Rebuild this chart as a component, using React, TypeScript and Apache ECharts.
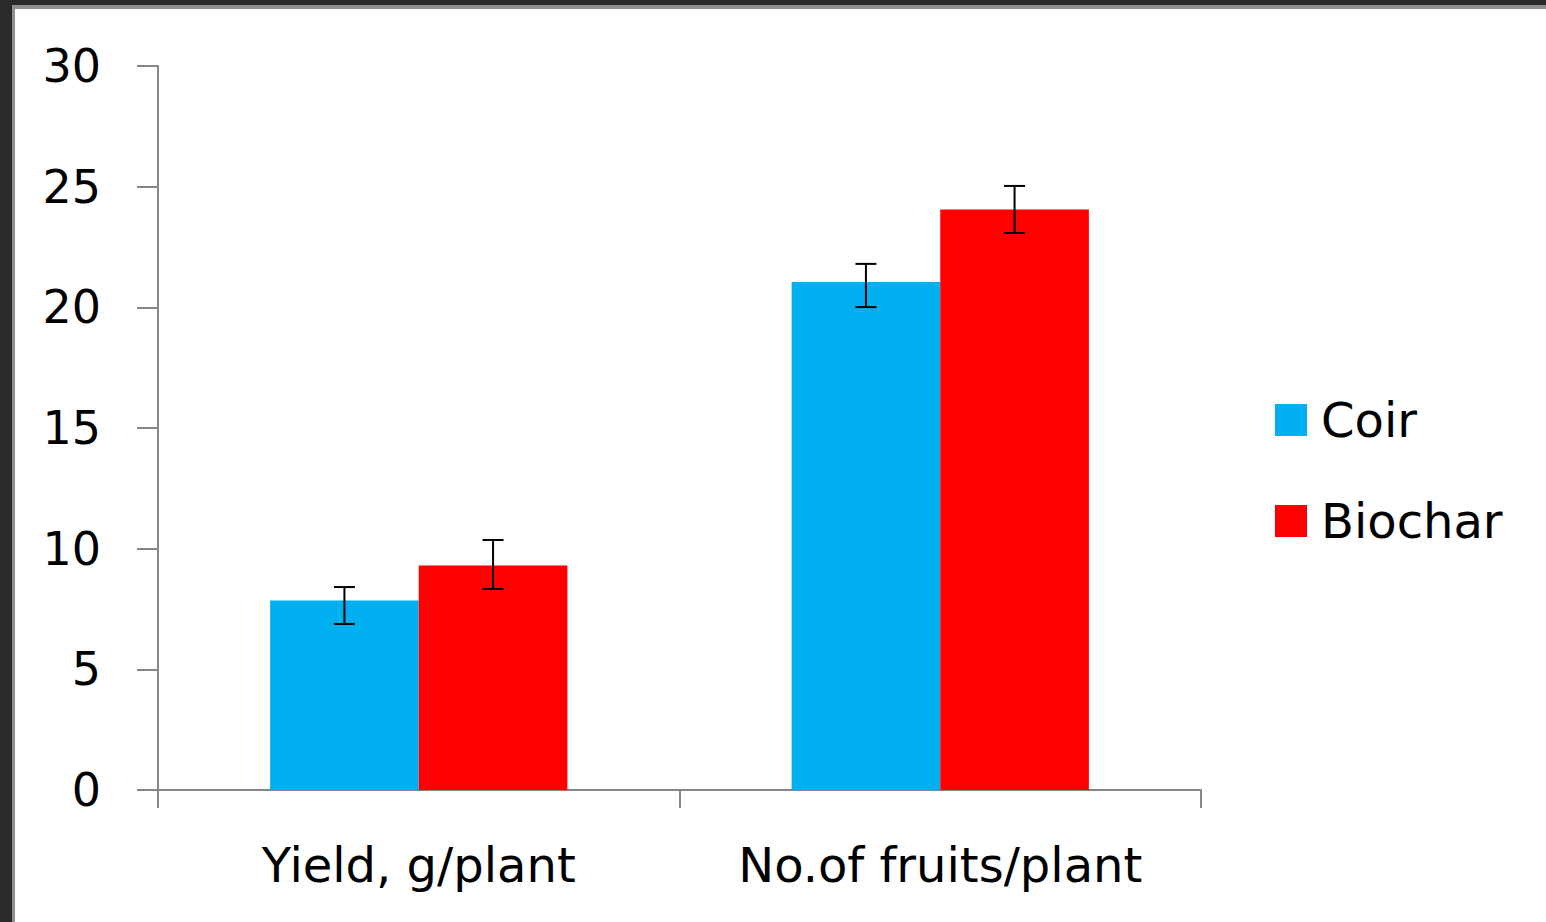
import React, { useEffect, useRef } from "react";
import * as echarts from "echarts";

const categories = ["Yield, g/plant", "No.of fruits/plant"];
const seriesNames = ["Coir", "Biochar"];
const coirValues = [7.85, 21.05];
const coirErrLow = [6.88, 20.01];
const coirErrHigh = [8.41, 21.8];
const biocharValues = [9.3, 24.05];
const biocharErrLow = [8.33, 23.08];
const biocharErrHigh = [10.36, 25.03];
const seriesColors = ["#00B0F0", "#FF0000"];
const yTicks = { min: 0, max: 30, interval: 5 };

const FONT = "DejaVu Sans";
const FS = 46;
const FS_BIG = 48;
const BAR_CAT_GAP = 0.43;

function errorSeries(lows: number[], highs: number[], side: number, name: string) {
  return {
    type: "custom",
    name: name + " error",
    silent: true,
    z: 10,
    data: lows.map((lo, i) => [i, lo, highs[i]]),
    renderItem: (params: any, api: any) => {
      const idx = api.value(0);
      const lo = api.coord([idx, api.value(1)]);
      const hi = api.coord([idx, api.value(2)]);
      const band = api.size([1, 0])[0];
      const barW = (band * (1 - BAR_CAT_GAP)) / 2;
      const x = lo[0] + (side * barW) / 2;
      const cap = 10.5;
      const style = { stroke: "#000", lineWidth: 2 };
      return {
        type: "group",
        children: [
          { type: "line", shape: { x1: x, y1: lo[1], x2: x, y2: hi[1] }, style },
          { type: "line", shape: { x1: x - cap, y1: lo[1], x2: x + cap, y2: lo[1] }, style },
          { type: "line", shape: { x1: x - cap, y1: hi[1], x2: x + cap, y2: hi[1] }, style },
        ],
      };
    },
  };
}

export default function App() {
  const ref = useRef<HTMLDivElement>(null);
  useEffect(() => {
    if (!ref.current) return;
    const chart = echarts.init(ref.current, undefined, { renderer: "svg" });
    chart.setOption({
      animation: false,
      backgroundColor: "transparent",
      textStyle: { fontFamily: FONT },
      grid: { left: 158, right: 345, top: 66, bottom: 132, containLabel: false },
      legend: {
        orient: "vertical",
        left: 1270,
        top: 391,
        itemWidth: 32,
        itemHeight: 32,
        itemGap: 53,
        icon: "rect",
        data: seriesNames,
        textStyle: { fontFamily: FONT, fontSize: FS_BIG, color: "#000", lineHeight: 46, padding: [0, 0, 0, 9] },
      },
      xAxis: {
        type: "category",
        data: categories,
        axisLine: { show: true, lineStyle: { color: "#868686", width: 2 } },
        axisTick: { show: true, interval: 0, length: 18, lineStyle: { color: "#868686", width: 2 } },
        axisLabel: { interval: 0, color: "#000", fontFamily: FONT, fontSize: FS_BIG, margin: 51 },
        splitLine: { show: false },
      },
      yAxis: {
        type: "value",
        min: yTicks.min,
        max: yTicks.max,
        interval: yTicks.interval,
        axisLine: { show: true, lineStyle: { color: "#868686", width: 2 } },
        axisTick: { show: true, length: 21, lineStyle: { color: "#868686", width: 2 } },
        axisLabel: { color: "#000", fontFamily: FONT, fontSize: FS, margin: 57 },
        splitLine: { show: false },
      },
      series: [
        {
          type: "bar",
          name: seriesNames[0],
          data: coirValues,
          itemStyle: { color: seriesColors[0] },
          barGap: "0%",
          barCategoryGap: "43%",
        },
        {
          type: "bar",
          name: seriesNames[1],
          data: biocharValues,
          itemStyle: { color: seriesColors[1] },
          barGap: "0%",
          barCategoryGap: "43%",
        },
        errorSeries(coirErrLow, coirErrHigh, -1, seriesNames[0]),
        errorSeries(biocharErrLow, biocharErrHigh, 1, seriesNames[1]),
      ],
    });
    return () => chart.dispose();
  }, []);

  return (
    <div style={{ position: "fixed", left: 0, top: 0, width: 1546, height: 922, background: "#2a2a2a", overflow: "hidden" }}>
      <div style={{ position: "absolute", left: 12, top: 5, right: 0, bottom: 0, background: "#8e8e8e" }} />
      <div style={{ position: "absolute", left: 15, top: 9, right: 0, bottom: 0, background: "#ffffff" }} />
      <div ref={ref} style={{ position: "absolute", left: 0, top: 0, width: 1546, height: 922 }} />
    </div>
  );
}
